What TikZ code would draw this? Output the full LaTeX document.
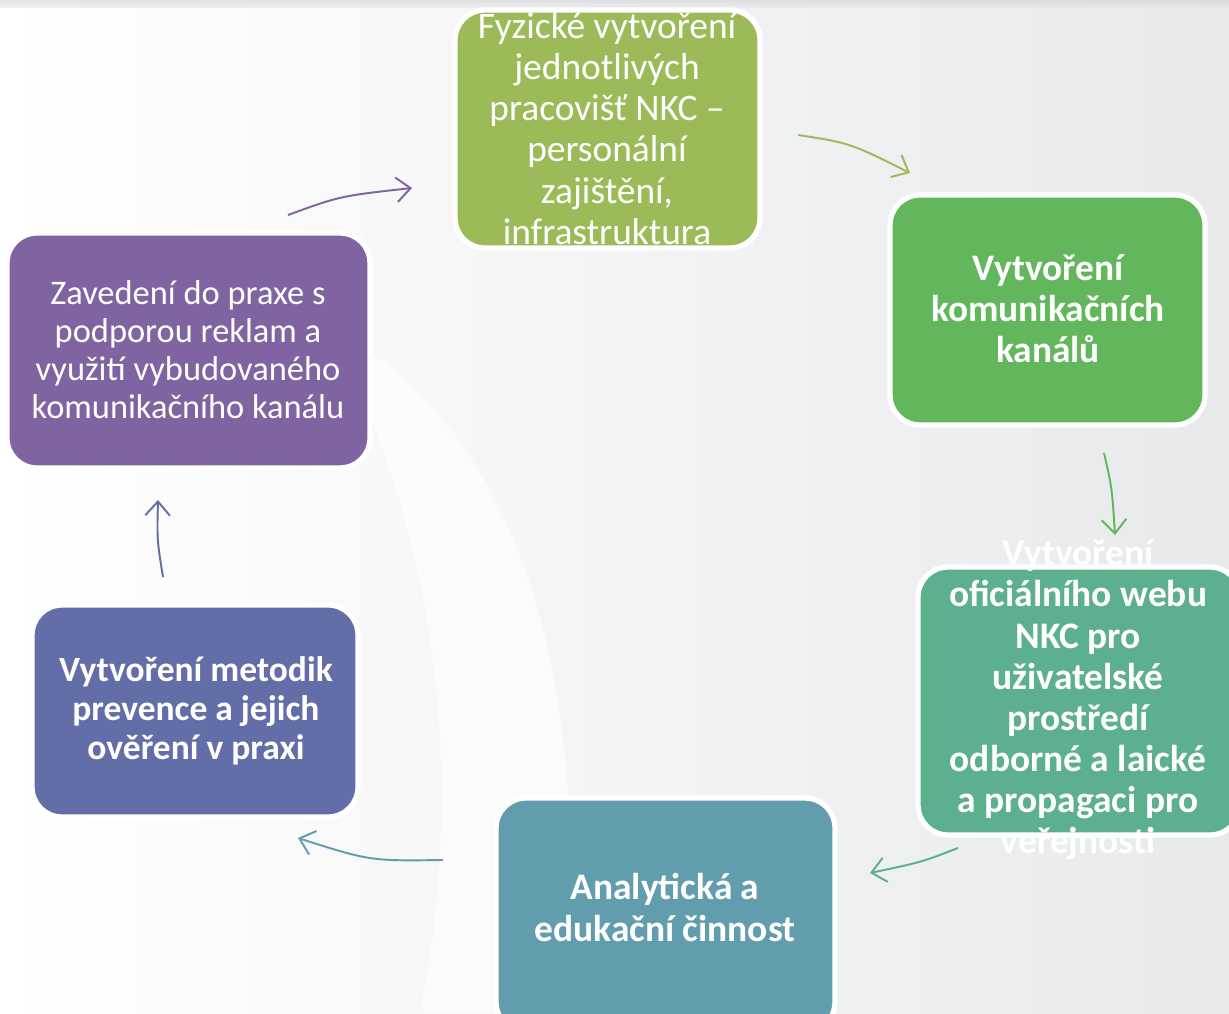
\documentclass[tikz,border=0pt]{standalone}
\usepackage{fontspec}
\setmainfont{Carlito}
\usetikzlibrary{arrows.meta}

\definecolor{cfyz}{RGB}{155,187,89}
\definecolor{ckom}{RGB}{98,182,91}
\definecolor{cweb}{RGB}{92,176,142}
\definecolor{cana}{RGB}{97,157,172}
\definecolor{cmet}{RGB}{99,110,168}
\definecolor{czav}{RGB}{128,99,161}
\definecolor{cback}{RGB}{232,233,235}

\tikzset{
  stepbox/.style={draw=white, line width=3pt, rounded corners=17pt, inner sep=0pt},
  steptext/.style={text=white, align=center, inner sep=0pt},
  flow/.style={line width=1.1pt, -{Straight Barb[length=8pt,width=14pt,line width=1.1pt]}}
}

\begin{document}
\begin{tikzpicture}[x=0.02cm,y=-0.02cm]
          % background
          \shade[left color=white, right color=cback] (0,0) rectangle (1229,1013);
          \fill[white, opacity=0.6] (330,330) .. controls (520,420) and (600,700) .. (560,1013)
              -- (420,1013) .. controls (470,760) and (430,520) .. (330,330) -- cycle;
          \shade[top color=cback!90!black, bottom color=cback, opacity=0.6] (0,0) rectangle (1229,8);
          \useasboundingbox (0,0) rectangle (1229,1013);

          % boxes
          \node[stepbox, fill=cfyz, minimum width=6.1cm, minimum height=4.76cm] (fyz) at (607.5,129) {};
          \node[stepbox, fill=ckom, minimum width=6.3cm, minimum height=4.6cm] (kom) at (1047.5,310) {};
          \node[stepbox, fill=cweb, minimum width=6.44cm, minimum height=5.36cm] (web) at (1079,701) {};
          \node[stepbox, fill=cana, minimum width=6.78cm, minimum height=4.68cm] (ana) at (665.5,915) {};
          \node[stepbox, fill=cmet, minimum width=6.52cm, minimum height=4.24cm] (met) at (195,711) {};
          \node[stepbox, fill=czav, minimum width=7.26cm, minimum height=4.7cm] (zav) at (188.5,350.5) {};

          % texts
          \node[steptext, font=\fontsize{21.3}{23.4}\selectfont] (tfyz) at (607,128.5)
              {Fyzické vytvoření\\jednotlivých\\pracovišť NKC –\\personální\\zajištění,\\infrastruktura};
          \node[steptext, font=\bfseries\fontsize{21.3}{23.4}\selectfont] (tkom) at (1048,309)
              {Vytvoření\\komunikačních\\kanálů};
          \node[steptext, font=\bfseries\fontsize{21.3}{23.4}\selectfont] (tweb) at (1078,700)
              {Vytvoření\\oficiálního webu\\NKC pro\\uživatelské\\prostředí\\odborné a laické\\a propagaci pro\\veřejnosti};
          \node[steptext, font=\bfseries\fontsize{21.3}{23.4}\selectfont] (tana) at (665,907.5)
              {Analytická a\\edukační činnost};
          \node[steptext, font=\bfseries\fontsize{20.2}{22.2}\selectfont] (tmet) at (196,710.5)
              {Vytvoření metodik\\prevence a jejich\\ověření v praxi};
          \node[steptext, font=\fontsize{19.6}{21.6}\selectfont] (tzav) at (188,350)
              {Zavedení do praxe s\\podporou reklam a\\využití vybudovaného\\komunikačního kanálu};

          % arrow ends
          \coordinate (a1s) at (798,135);  \coordinate (a1e) at (910,173);
          \coordinate (a2s) at (1104,453); \coordinate (a2e) at (1115,535);
          \coordinate (a3s) at (958,848);  \coordinate (a3e) at (870,873);
          \coordinate (a4s) at (443,860);  \coordinate (a4e) at (298,838);
          \coordinate (a5s) at (163,577);  \coordinate (a5e) at (158,500);
          \coordinate (a6s) at (288,215);  \coordinate (a6e) at (412,188);

          \draw[flow, cfyz] (a1s) .. controls (850,143) .. (a1e);
          \draw[flow, ckom] (a2s) .. controls (1112,488) .. (a2e);
          \draw[flow, cweb] (a3s) .. controls (922,862) .. (a3e);
          \draw[flow, cana] (a4s) .. controls (370,861) .. (a4e);
          \draw[flow, cmet] (a5s) .. controls (157,540) .. (a5e);
          \draw[flow, czav] (a6s) .. controls (340,196) .. (a6e);
        \end{tikzpicture}
\end{document}
